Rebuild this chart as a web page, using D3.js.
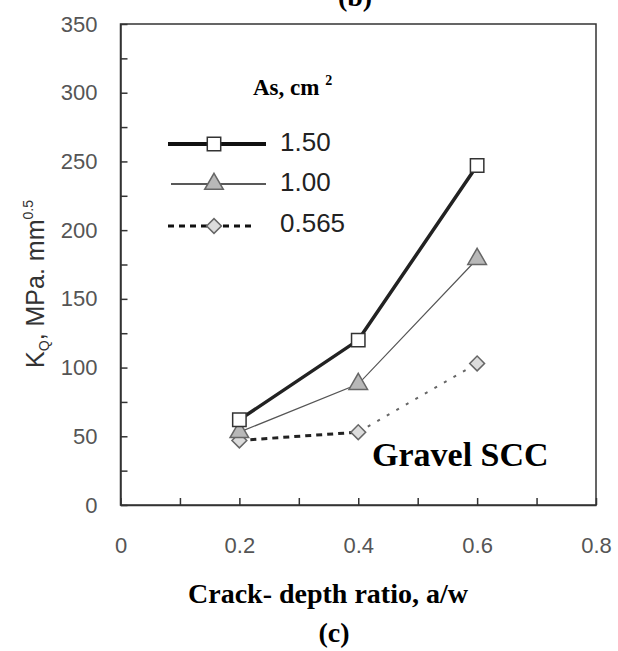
<!DOCTYPE html>
<html>
<head>
<meta charset="utf-8">
<script src="https://cdn.jsdelivr.net/npm/d3@7"></script>
<style>
  body { margin: 0; background: #fff; }
  svg { display: block; }
</style>
</head>
<body>
<div id="chart"></div>
<script>
// chart data
var crackRatio = [0.2, 0.4, 0.6];
var kq150 = [62, 120, 247];
var kq100 = [53, 88, 179];
var kq0565 = [47, 53, 103];
var seriesNames = ["1.50", "1.00", "0.565"];
var yTickLabels = [0, 50, 100, 150, 200, 250, 300, 350];
var xTickLabels = [0, 0.2, 0.4, 0.6, 0.8];

var svgWidth = 618;
var svgHeight = 651;

var margin = { top: 24, right: 22, bottom: 146, left: 120.5 };
var width = 596 - margin.left;
var height = 505 - margin.top;

var svg = d3.select("#chart")
    .append("svg")
    .attr("width", svgWidth)
    .attr("height", svgHeight);

var chartGroup = svg.append("g")
    .attr("transform", `translate(${margin.left}, ${margin.top})`);

var xScale = d3.scaleLinear().domain([0, 0.8]).range([0, width]);
var yScale = d3.scaleLinear().domain([0, 350]).range([height, 0]);

// frame
chartGroup.append("rect")
    .attr("width", width)
    .attr("height", height)
    .attr("fill", "none")
    .attr("stroke", "#333")
    .attr("stroke-width", 1.5);

// minor + major ticks, pointing inward
var xTicks = d3.range(0, 9).map(d => d / 10);
var yTicks = d3.range(0, 15).map(d => d * 25);

var bottomAxis = d3.axisBottom(xScale)
    .tickValues(xTicks)
    .tickSizeInner(-7)
    .tickSizeOuter(0)
    .tickPadding(32)
    .tickFormat(d => xTickLabels.some(v => Math.abs(v - d) < 1e-9) ? d3.format("")(+d.toFixed(1)) : "");

var leftAxis = d3.axisLeft(yScale)
    .tickValues(yTicks)
    .tickSizeInner(-7)
    .tickSizeOuter(0)
    .tickPadding(23)
    .tickFormat(d => yTickLabels.indexOf(d) >= 0 ? d : "");

var xAxis = chartGroup.append("g")
    .attr("transform", `translate(0, ${height})`)
    .call(bottomAxis);

var yAxis = chartGroup.append("g")
    .call(leftAxis);

[xAxis, yAxis].forEach(function(ax) {
  ax.select(".domain").attr("stroke", "#333").attr("stroke-width", 1.5);
  ax.selectAll(".tick line").attr("stroke", "#333").attr("stroke-width", 1.5);
  ax.selectAll(".tick text")
    .style("font-family", "Liberation Sans, Arial, sans-serif")
    .style("font-size", "22px")
    .attr("fill", "#555");
});
xAxis.selectAll(".tick text").attr("dy", "0.72em");

// lines
var line = d3.line()
    .x(d => xScale(d[0]))
    .y(d => yScale(d[1]));

var pts0565 = kq0565.map((v, i) => [crackRatio[i], v]);

// 0.565: heavy dashes first, then a lighter dotted run
chartGroup.append("path")
    .datum(pts0565.slice(0, 2))
    .attr("d", line)
    .attr("fill", "none")
    .attr("stroke", "#222")
    .attr("stroke-width", 3)
    .attr("stroke-dasharray", "6,5");

chartGroup.append("path")
    .datum(pts0565.slice(1))
    .attr("d", line)
    .attr("fill", "none")
    .attr("stroke", "#666")
    .attr("stroke-width", 2)
    .attr("stroke-dasharray", "3,8");

chartGroup.append("path")
    .datum(kq100.map((v, i) => [crackRatio[i], v]))
    .attr("d", line)
    .attr("fill", "none")
    .attr("stroke", "#555")
    .attr("stroke-width", 1.2);

chartGroup.append("path")
    .datum(kq150.map((v, i) => [crackRatio[i], v]))
    .attr("d", line)
    .attr("fill", "none")
    .attr("stroke", "#222")
    .attr("stroke-width", 3.5);

// markers
var sym = d3.symbol();
var markerStyles = [
  { type: d3.symbolSquare, size: 180, fill: "#fff", stroke: "#333", rot: 0 },
  { type: d3.symbolTriangle, size: 150, fill: "#b8b8b8", stroke: "#666", rot: 0 },
  { type: d3.symbolSquare, size: 110, fill: "#dcdcdc", stroke: "#666", rot: 45 }
];
var allSeries = [kq150, kq100, kq0565];

[2, 1, 0].forEach(function(s) {
  var st = markerStyles[s];
  chartGroup.selectAll(".m" + s)
    .data(allSeries[s])
    .enter()
    .append("path")
    .attr("d", sym.type(st.type).size(st.size)())
    .attr("transform", (d, i) => `translate(${xScale(crackRatio[i])}, ${yScale(d)}) rotate(${st.rot})`)
    .attr("fill", st.fill)
    .attr("stroke", st.stroke)
    .attr("stroke-width", 1.5);
});

// legend
var legendRows = [
  { y: 144, x1: 168, x2: 266, w: 4, dash: null, col: "#111", ty: 151 },
  { y: 184, x1: 171, x2: 266, w: 1.3, dash: null, col: "#222", ty: 191 },
  { y: 226, x1: 168, x2: 256, w: 3, dash: "6,5", col: "#111", ty: 232 }
];

legendRows.forEach(function(r, s) {
  var st = markerStyles[s];
  svg.append("line")
    .attr("x1", r.x1).attr("x2", r.x2)
    .attr("y1", r.y).attr("y2", r.y)
    .attr("stroke", r.col)
    .attr("stroke-width", r.w)
    .attr("stroke-dasharray", r.dash);
  svg.append("path")
    .attr("d", sym.type(st.type).size(st.size)())
    .attr("transform", `translate(214, ${r.y}) rotate(${st.rot})`)
    .attr("fill", st.fill)
    .attr("stroke", st.stroke)
    .attr("stroke-width", 1.5);
  svg.append("text")
    .attr("x", 280)
    .attr("y", r.ty)
    .style("font-family", "Liberation Sans, Arial, sans-serif")
    .style("font-size", "26px")
    .attr("fill", "#222")
    .text(seriesNames[s]);
});

var asLabel = svg.append("text")
    .attr("x", 253)
    .attr("y", 95)
    .style("font-family", "Liberation Serif, Times New Roman, serif")
    .style("font-weight", "bold")
    .style("font-size", "23px")
    .attr("fill", "#000");
asLabel.append("tspan").text("As, cm ");
asLabel.append("tspan").attr("dy", -10).style("font-size", "14px").text("2");

// y axis title
var yTitle = svg.append("text")
    .attr("transform", "translate(44, 284) rotate(-90)")
    .attr("text-anchor", "middle")
    .style("font-family", "Liberation Sans, Arial, sans-serif")
    .style("font-size", "25px")
    .attr("fill", "#333");
yTitle.append("tspan").text("K");
yTitle.append("tspan").attr("dy", 5).style("font-size", "14px").text("Q");
yTitle.append("tspan").attr("dy", -5).text(", MPa. mm");
yTitle.append("tspan").attr("dy", -11).style("font-size", "14px").text("0.5");

// annotations
svg.append("text")
    .attr("x", 372)
    .attr("y", 466)
    .style("font-family", "Liberation Serif, Times New Roman, serif")
    .style("font-weight", "bold")
    .style("font-size", "34px")
    .text("Gravel SCC");

svg.append("text")
    .attr("x", 188)
    .attr("y", 603)
    .style("font-family", "Liberation Serif, Times New Roman, serif")
    .style("font-weight", "bold")
    .style("font-size", "28px")
    .text("Crack- depth ratio, a/w");

svg.append("text")
    .attr("x", 334)
    .attr("y", 642)
    .attr("text-anchor", "middle")
    .style("font-family", "Liberation Serif, Times New Roman, serif")
    .style("font-weight", "bold")
    .style("font-size", "28px")
    .text("(c)");

// bottom of previous panel caption, cut off at the top edge
svg.append("text")
    .attr("x", 355)
    .attr("y", 6)
    .attr("text-anchor", "middle")
    .style("font-family", "Liberation Serif, Times New Roman, serif")
    .style("font-weight", "bold")
    .style("font-size", "28px")
    .text("(b)");
</script>
</body>
</html>
